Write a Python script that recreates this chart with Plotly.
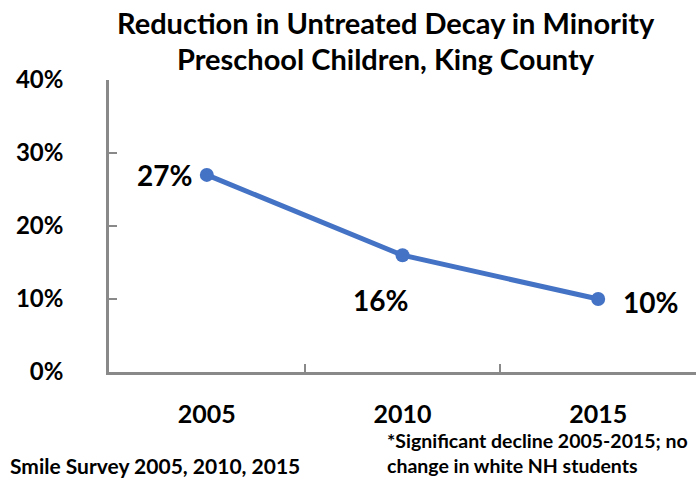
import plotly.graph_objects as go

years = ["2005", "2010", "2015"]
decay_pct = [27, 16, 10]
y_ticks = [0, 10, 20, 30, 40]
y_tick_labels = ["0%", "10%", "20%", "30%", "40%"]
title_lines = ["Reduction in Untreated Decay in Minority", "Preschool Children, King County"]

FONT = "Lato, Calibri, sans-serif"
BLUE = "#4472C4"
AXIS = "#898989"

W, H = 696, 483
x0, x1 = 109, 696
y_top, y_bot = 80, 372

fig = go.Figure()
fig.add_trace(go.Scatter(
    x=years, y=decay_pct, mode="lines+markers",
    line=dict(color=BLUE, width=5),
    marker=dict(color=BLUE, size=14),
    hoverinfo="skip", showlegend=False,
))

# value labels placed around each point (x given as category index)
offsets = [(-42, 0), (-22, -45), (52, -3)]
for i, (v, (dx, dy)) in enumerate(zip(decay_pct, offsets)):
    fig.add_annotation(x=i, y=v, xref="x", yref="y", text=f"<b>{v}%</b>",
                       showarrow=False, xshift=dx, yshift=dy,
                       font=dict(family=FONT, size=28, color="black"))

fig.update_layout(
    width=W, height=H,
    margin=dict(l=0, r=0, t=0, b=0, autoexpand=False),
    paper_bgcolor="white", plot_bgcolor="white",
    xaxis=dict(
        type="category", domain=[x0 / W, x1 / W],
        range=[-0.5, 2.5], tickson="boundaries",
        tickvals=years, ticktext=[f"<b>{y}</b>" for y in years],
        ticks="inside", ticklen=8, tickwidth=2, tickcolor=AXIS,
        showline=True, linecolor=AXIS, linewidth=2.5,
        showgrid=False, zeroline=False,
        tickfont=dict(family=FONT, size=25, color="black"),
        ticklabelstandoff=18,
    ),
    yaxis=dict(
        domain=[1 - y_bot / H, 1 - y_top / H],
        range=[0, 40], tickvals=y_ticks, ticktext=[f"<b>{t}</b>" for t in y_tick_labels],
        ticks="inside", ticklen=8, tickwidth=2, tickcolor=AXIS,
        showline=True, linecolor=AXIS, linewidth=2.5,
        showgrid=False, zeroline=False,
        tickfont=dict(family=FONT, size=24, color="black"),
        ticklabelstandoff=38,
    ),
)

# chart title, one annotation per line
for line, yc in zip(title_lines, [22, 58]):
    fig.add_annotation(xref="paper", yref="paper", x=386 / W, y=1 - yc / H,
                       xanchor="center", yanchor="middle", showarrow=False,
                       text=f"<b>{line}</b>",
                       font=dict(family=FONT, size=29, color="black"))

fig.add_annotation(xref="paper", yref="paper", x=8 / W, y=1 - 465 / H,
                   xanchor="left", yanchor="middle", showarrow=False,
                   text="<b>Smile Survey 2005, 2010, 2015</b>",
                   font=dict(family=FONT, size=21, color="black"))
fig.add_annotation(xref="paper", yref="paper", x=385 / W, y=1 - 453 / H,
                   xanchor="left", yanchor="middle", showarrow=False, align="left",
                   text="<b>*Significant decline 2005-2015; no<br>change in white NH students</b>",
                   font=dict(family=FONT, size=19.5, color="black"))

fig.write_html("out.html")
